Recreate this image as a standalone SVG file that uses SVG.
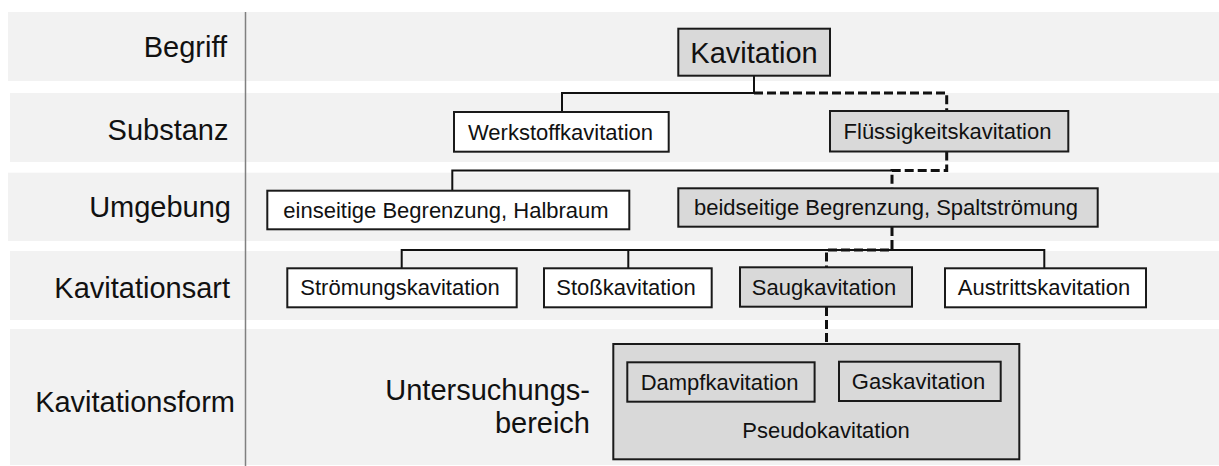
<svg xmlns="http://www.w3.org/2000/svg" width="1219" height="466" viewBox="0 0 1219 466">
<style>
text{font-family:"Liberation Sans",Arial,sans-serif;fill:#111}
.band{fill:#f2f2f2}
.lbl{font-size:29px;text-anchor:end}
.t{font-size:22px;text-anchor:middle}
.g{fill:#d9d9d9;stroke:#1a1a1a;stroke-width:2}
.w{fill:#fff;stroke:#1a1a1a;stroke-width:2}
.solid{fill:none;stroke:#111;stroke-width:2}
.dash{fill:none;stroke:#111;stroke-width:3;stroke-dasharray:9 4}
</style>
<g id="bands">
<rect class="band" x="8" y="12" width="1211" height="69"/>
<rect class="band" x="10" y="93" width="1209" height="69"/>
<rect class="band" x="8" y="172.7" width="1211" height="68.3"/>
<rect class="band" x="10" y="251" width="1209" height="69"/>
<rect class="band" x="10" y="329" width="1209" height="136"/>
<line x1="245.5" y1="12" x2="245.5" y2="466" stroke="#808080" stroke-width="1.5"/>
</g>
<g id="labels">
<text class="lbl" x="227" y="56.7">Begriff</text>
<text class="lbl" x="228.5" y="140">Substanz</text>
<text class="lbl" x="231" y="216.7">Umgebung</text>
<text class="lbl" x="230" y="298.3">Kavitationsart</text>
<text class="lbl" x="235" y="411.7">Kavitationsform</text>
</g>
<g id="connectors">
<path class="solid" d="M754,76 V93 H562 V112"/>
<path class="dash" d="M754,93 H946.7 V111"/>
<path class="dash" d="M946.7,151.5 V170.5 H892 V188.3"/>
<path class="solid" d="M892,170.5 H452.3 V190.7"/>
<path class="dash" d="M892,227 V250 H826.5 V267.3"/>
<path class="solid" d="M892,250 H401.7 V268.3 M628.3,250 V268.3 M892,250 H1044.3 V268.3"/>
<path class="dash" d="M826.5,307 V344"/>
</g>
<g id="n-kavitation">
<rect class="g" x="678.3" y="28.7" width="151.7" height="47"/>
<text x="754" y="62.7" style="font-size:29px;text-anchor:middle">Kavitation</text>
</g>
<g id="n-werkstoff">
<rect class="w" x="454" y="112" width="214.7" height="39.7"/>
<text class="t" x="560.5" y="139.5">Werkstoffkavitation</text>
</g>
<g id="n-fluessig">
<rect class="g" x="830" y="111" width="238.3" height="40.5"/>
<text class="t" x="947.5" y="139">Flüssigkeitskavitation</text>
</g>
<g id="n-einseitig">
<rect class="w" x="267.3" y="190.7" width="362" height="38.6"/>
<text class="t" x="446" y="217.5">einseitige Begrenzung, Halbraum</text>
</g>
<g id="n-beidseitig">
<rect class="g" x="678.3" y="188.3" width="419.4" height="38.4"/>
<text class="t" x="886" y="215">beidseitige Begrenzung, Spaltströmung</text>
</g>
<g id="n-stroemung">
<rect class="w" x="287.3" y="268.3" width="229.4" height="39"/>
<text class="t" x="400" y="295.3">Strömungskavitation</text>
</g>
<g id="n-stoss">
<rect class="w" x="544" y="268.3" width="167.7" height="39"/>
<text class="t" x="626" y="295.3">Stoßkavitation</text>
</g>
<g id="n-saug">
<rect class="g" x="740" y="267.3" width="172" height="39.4"/>
<text class="t" x="824" y="294.8">Saugkavitation</text>
</g>
<g id="n-austritt">
<rect class="w" x="945" y="268.3" width="201" height="39"/>
<text class="t" x="1044" y="295.3">Austrittskavitation</text>
</g>
<g id="n-untersuchung">
<text x="590" y="400" style="font-size:29px;text-anchor:end">Untersuchungs-</text>
<text x="590" y="433.3" style="font-size:29px;text-anchor:end">bereich</text>
</g>
<g id="n-pseudo">
<rect class="g" x="613.3" y="344" width="406" height="115.3"/>
<text class="t" x="826" y="438.3">Pseudokavitation</text>
</g>
<g id="n-dampf">
<rect class="g" x="627.3" y="362.3" width="187.3" height="39.4"/>
<text class="t" x="719.5" y="389.5">Dampfkavitation</text>
</g>
<g id="n-gas">
<rect class="g" x="839" y="361.7" width="161.7" height="39.3"/>
<text class="t" x="918.5" y="389">Gaskavitation</text>
</g>
</svg>
